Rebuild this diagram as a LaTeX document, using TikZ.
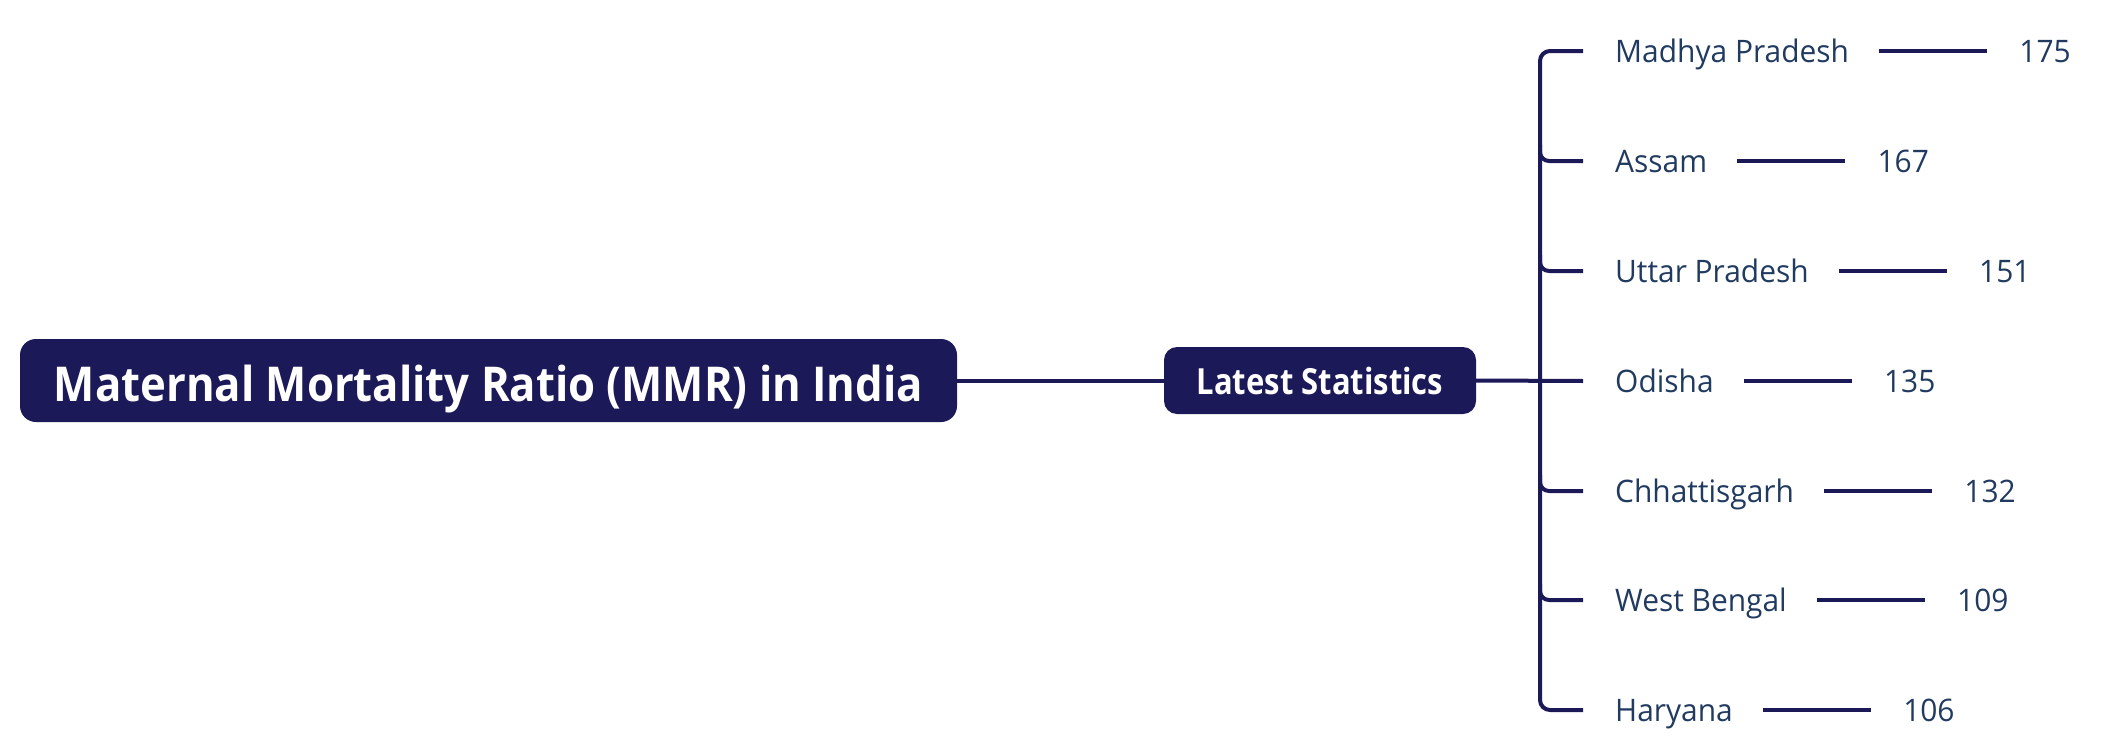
\documentclass[tikz,border=0pt]{standalone}
\usepackage{fontspec}
\setmainfont[FakeStretch=0.965]{Open Sans}
\newfontfamily\rootfont[FakeStretch=0.91]{Open Sans}
\newfontfamily\subfont[FakeStretch=0.86]{Open Sans}
\definecolor{navy}{HTML}{1B1958}
\definecolor{txt}{HTML}{203A60}
\begin{document}
\begin{tikzpicture}[x=1pt,y=-1pt,
  conn/.style={draw=navy, line width=4pt},
  rootbox/.style={fill=navy, text=white, rounded corners=16pt, minimum width=937pt, minimum height=83pt,
     font=\rootfont\fontsize{48}{56}\selectfont\bfseries, inner sep=0pt, text height=41pt, text depth=0pt},
  subbox/.style={fill=navy, text=white, rounded corners=13pt, minimum width=312pt, minimum height=67pt,
     font=\subfont\fontsize{36}{42}\selectfont\bfseries, inner sep=0pt, text height=27pt, text depth=0pt},
  state/.style={text=txt, font=\fontsize{31}{36}\selectfont, inner sep=0pt, text height=22pt, text depth=0pt, anchor=west},
  val/.style={state}
]
\useasboundingbox (0,0) rectangle (2120,747);
\node[rootbox] (root) at (488.5,380.5) {Maternal Mortality Ratio (MMR) in India};
\node[subbox] (latest) at (1320,380.5) {Latest Statistics};
\draw[conn] (root.east) -- (latest.west);

\foreach \i/\y/\name/\v in {1/51/Madhya Pradesh/175, 2/161/Assam/167, 3/271/Uttar Pradesh/151,
   4/381/Odisha/135, 5/491/Chhattisgarh/132, 6/600/West Bengal/109, 7/710/Haryana/106}{
  \node[state] (s\i) at (1615,\y) {\name};
  \node[val] (v\i) at ([xshift=170pt]s\i.east) {\v};
  \draw[conn, shorten <=30pt, shorten >=32pt] (s\i.east) -- (v\i.west);
}
% bracket
\draw[conn, rounded corners=10pt] ([xshift=-32pt]s1.west) -- (1540,51) -- (1540,710) -- ([xshift=-32pt]s7.west);
\foreach \i/\y in {2/161,3/271,5/491,6/600}{
  \draw[conn, rounded corners=9pt] (1540,\y-16) -- (1540,\y) -- ([xshift=-32pt]s\i.west);
}
\draw[conn] (latest.east) -- ([xshift=-32pt]s4.west);
\end{tikzpicture}
\end{document}
